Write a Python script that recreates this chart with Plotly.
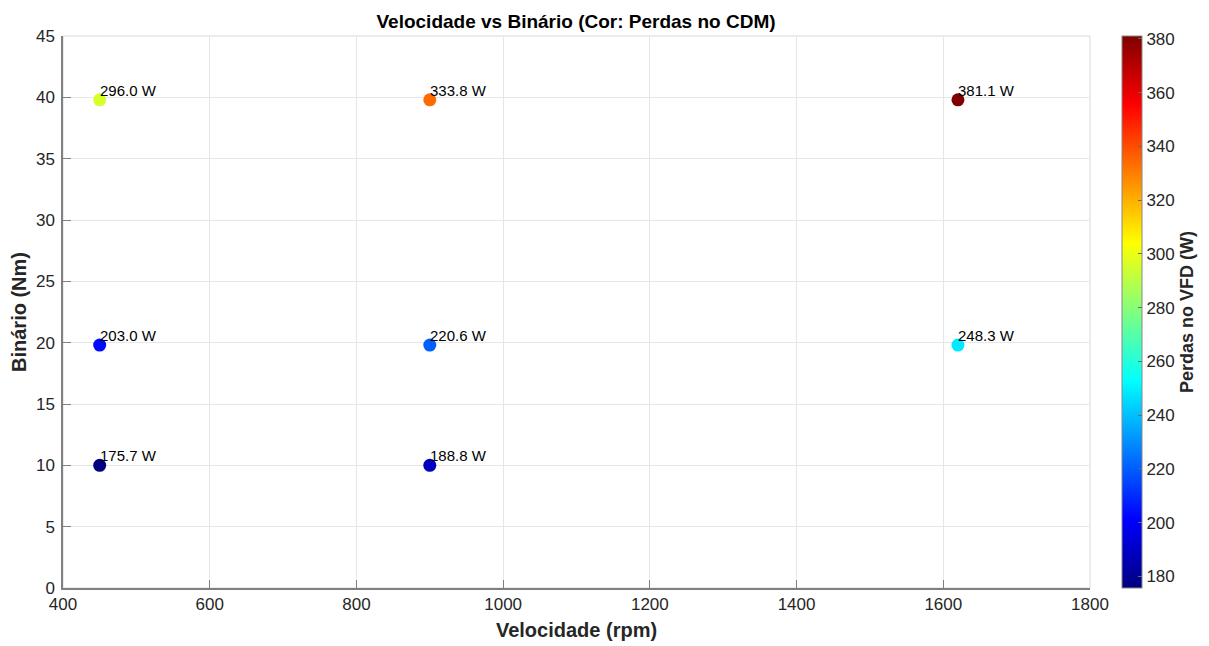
import plotly.graph_objects as go

# dados
velocidade = [450, 450, 450, 900, 900, 900, 1620, 1620]
binario = [10.0, 19.8, 39.8, 10.0, 19.8, 39.8, 19.8, 39.8]
perdas = [175.7, 203.0, 296.0, 188.8, 220.6, 333.8, 248.3, 381.1]
etiquetas = ["%.1f W" % p for p in perdas]

# colormap jet (MATLAB)
jet = [[0.0, "rgb(0,0,128)"], [0.125, "rgb(0,0,255)"], [0.375, "rgb(0,255,255)"],
       [0.625, "rgb(255,255,0)"], [0.875, "rgb(255,0,0)"], [1.0, "rgb(128,0,0)"]]

fnt = "Liberation Sans, Arial, sans-serif"
fig = go.Figure()
fig.add_trace(go.Scatter(
    x=velocidade, y=binario, mode="markers",
    marker=dict(size=13, color=perdas, colorscale=jet, cmin=min(perdas), cmax=max(perdas),
                line=dict(width=0),
                colorbar=dict(title=dict(text="<b>Perdas no VFD (W)</b>", side="right",
                                         font=dict(size=18, color="#262626")),
                              x=1 + 32 / 1027, xanchor="left", xpad=0, y=0.5, yanchor="middle",
                              len=1, lenmode="fraction", thickness=20, ypad=0,
                              outlinecolor="#888", outlinewidth=1, ticks="inside",
                              tickcolor="#666", ticklen=4, dtick=20, tick0=180,
                              tickfont=dict(size=17, color="#262626"))),
    showlegend=False, hoverinfo="skip"))

for xv, yv, t in zip(velocidade, binario, etiquetas):
    fig.add_annotation(x=xv, y=yv, text=t, showarrow=False, xanchor="left", yanchor="bottom",
                       xshift=-2, yshift=-1, font=dict(size=15, color="black", family=fnt))

# a pagina tem 8px de margem no body
fig.update_layout(
    width=1209, height=646, plot_bgcolor="white", paper_bgcolor="white",
    margin=dict(l=55, r=127, t=28, b=66),
    font=dict(family=fnt, color="#262626"),
    title=dict(text="<b>Velocidade vs Binário (Cor: Perdas no CDM)</b>", x=568 / 1209, xanchor="center",
               y=1 - 13 / 646, yanchor="middle", font=dict(size=19, color="black")),
)
fig.update_xaxes(range=[400, 1800], dtick=200, showgrid=True, gridcolor="#e6e6e6", zeroline=False,
                 showline=True, linecolor="#808080", linewidth=1.5, mirror=False, automargin=False,
                 ticks="inside", ticklen=8, tickcolor="#808080", tickfont=dict(size=17),
                 ticklabelstandoff=0,
                 title=dict(text="<b>Velocidade (rpm)</b>", font=dict(size=20), standoff=10))
fig.update_yaxes(range=[0, 45], dtick=5, showgrid=True, gridcolor="#e6e6e6", zeroline=False,
                 showline=True, linecolor="#808080", linewidth=1.5, mirror=False, automargin=False,
                 ticks="inside", ticklen=8, tickcolor="#808080", tickfont=dict(size=17),
                 ticklabelstandoff=3,
                 title=dict(text="<b>Binário (Nm)</b>", font=dict(size=20), standoff=6))
# borda direita e superior clara
fig.add_shape(type="rect", xref="paper", yref="paper", x0=0, x1=1, y0=0, y1=1,
              line=dict(color="#d8d8d8", width=1), layer="below")

fig.write_html("out.html")
